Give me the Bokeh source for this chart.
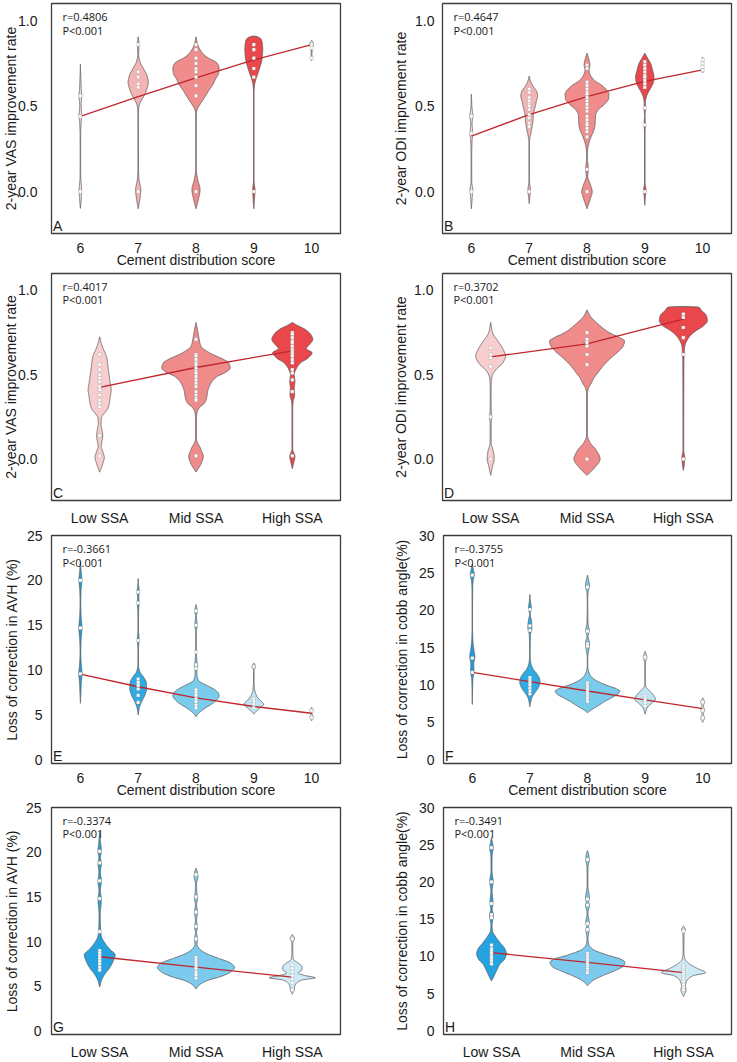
import numpy as np
from bokeh.plotting import figure
from bokeh.layouts import column, row
from bokeh.models import Range1d, FixedTicker, Label
from bokeh.embed import file_html
from bokeh.resources import INLINE

# ---------------------------------------------------------------------------
# Categories
# ---------------------------------------------------------------------------
SCORE_GROUPS = [6, 7, 8, 9, 10]
SSA_GROUPS = ["Low SSA", "Mid SSA", "High SSA"]

# Violin outlines: (value, half-width in category units) per group,
# white dots are the individual observations, trend = group fit values.

# A: 2-year VAS improvement rate vs cement distribution score
A_SHAPES = [
    [(0.745, 0), (0.68, 0.006), (0.60, 0.015), (0.56, 0.022), (0.50, 0.012), (0.45, 0.022),
     (0.40, 0.012), (0.33, 0.005), (0.20, 0.004), (0.08, 0.006), (0.02, 0.02), (-0.02, 0.018), (-0.098, 0)],
    [(0.905, 0), (0.87, 0.012), (0.84, 0.012), (0.80, 0.008), (0.76, 0.03), (0.72, 0.09), (0.68, 0.15),
     (0.64, 0.175), (0.60, 0.15), (0.56, 0.10), (0.53, 0.05), (0.50, 0.015), (0.46, 0.006), (0.15, 0.005),
     (0.07, 0.015), (0.01, 0.045), (-0.04, 0.03), (-0.1, 0)],
    [(0.905, 0), (0.87, 0.02), (0.83, 0.07), (0.80, 0.14), (0.78, 0.22), (0.75, 0.37), (0.72, 0.40),
     (0.69, 0.39), (0.66, 0.34), (0.625, 0.29), (0.59, 0.22), (0.557, 0.16), (0.53, 0.11), (0.51, 0.07),
     (0.48, 0.02), (0.45, 0.006), (0.13, 0.005), (0.07, 0.03), (0.01, 0.07), (-0.04, 0.045), (-0.1, 0)],
    [(0.91, 0), (0.905, 0.07), (0.89, 0.13), (0.86, 0.15), (0.83, 0.155), (0.80, 0.15), (0.77, 0.14),
     (0.72, 0.10), (0.68, 0.06), (0.65, 0.03), (0.62, 0.012), (0.58, 0.005), (0.06, 0.005), (0.01, 0.02),
     (-0.04, 0.012), (-0.1, 0)],
    [(0.885, 0), (0.87, 0.025), (0.855, 0.03), (0.84, 0.012), (0.80, 0.006), (0.78, 0.014), (0.765, 0)],
]
A_DOTS = [
    [0.56, 0.44, 0.0],
    [0.86, 0.70, 0.67, 0.63, 0.61, 0.0],
    [0.86, 0.83, 0.78, 0.75, 0.72, 0.70, 0.67, 0.62, 0.56, 0.0],
    [0.86, 0.83, 0.78, 0.72, 0.67, 0.0],
    [0.86, 0.84, 0.78],
]
A_TREND = [0.44, 0.555, 0.665, 0.77, 0.86]

# B: 2-year ODI improvement rate vs cement distribution score
B_SHAPES = [
    [(0.57, 0), (0.50, 0.008), (0.44, 0.025), (0.40, 0.012), (0.34, 0.022), (0.29, 0.01), (0.20, 0.005),
     (0.06, 0.006), (0.01, 0.022), (-0.03, 0.015), (-0.1, 0)],
    [(0.675, 0), (0.64, 0.03), (0.615, 0.07), (0.585, 0.13), (0.56, 0.145), (0.53, 0.125), (0.50, 0.105),
     (0.47, 0.085), (0.44, 0.07), (0.41, 0.065), (0.38, 0.05), (0.35, 0.035), (0.32, 0.015), (0.29, 0.005),
     (0.06, 0.005), (0.01, 0.022), (-0.03, 0.012), (-0.07, 0)],
    [(0.81, 0), (0.77, 0.035), (0.74, 0.05), (0.71, 0.035), (0.68, 0.06), (0.65, 0.13), (0.62, 0.26),
     (0.59, 0.35), (0.57, 0.38), (0.54, 0.37), (0.51, 0.30), (0.48, 0.20), (0.45, 0.15), (0.42, 0.145),
     (0.39, 0.14), (0.36, 0.12), (0.32, 0.07), (0.28, 0.03), (0.24, 0.01), (0.20, 0.006), (0.13, 0.022),
     (0.09, 0.012), (0.04, 0.06), (0.0, 0.09), (-0.04, 0.06), (-0.1, 0)],
    [(0.81, 0), (0.78, 0.05), (0.75, 0.10), (0.71, 0.135), (0.67, 0.16), (0.64, 0.15), (0.61, 0.11),
     (0.58, 0.06), (0.55, 0.025), (0.52, 0.01), (0.49, 0.012), (0.45, 0.005), (0.39, 0.01), (0.35, 0.005),
     (0.05, 0.005), (0.01, 0.02), (-0.03, 0.01), (-0.08, 0)],
    [(0.785, 0), (0.77, 0.02), (0.76, 0.01), (0.75, 0.02), (0.74, 0.01), (0.73, 0.02), (0.72, 0.01),
     (0.71, 0.02), (0.695, 0)],
]
B_DOTS = [
    [0.44, 0.34, 0.0],
    [0.60, 0.58, 0.55, 0.53, 0.51, 0.50, 0.48, 0.45, 0.43, 0.40, 0.38, 0.0],
    [0.74, 0.72, 0.64, 0.62, 0.60, 0.58, 0.57, 0.55, 0.53, 0.51, 0.49, 0.47, 0.44, 0.42, 0.40, 0.39,
     0.37, 0.35, 0.32, 0.13, 0.0],
    [0.76, 0.74, 0.72, 0.70, 0.68, 0.67, 0.65, 0.63, 0.61, 0.49, 0.39, 0.0],
    [0.77, 0.75, 0.73, 0.71],
]
B_TREND = [0.325, 0.45, 0.555, 0.645, 0.712]

# C: 2-year VAS improvement rate vs SSA group
C_SHAPES = [
    [(0.725, 0), (0.69, 0.015), (0.65, 0.04), (0.61, 0.07), (0.57, 0.082), (0.53, 0.09), (0.49, 0.10),
     (0.45, 0.11), (0.41, 0.12), (0.37, 0.11), (0.33, 0.10), (0.30, 0.085), (0.27, 0.045), (0.245, 0.018),
     (0.21, 0.014), (0.17, 0.025), (0.14, 0.032), (0.10, 0.022), (0.075, 0.016), (0.04, 0.035),
     (0.01, 0.048), (-0.03, 0.03), (-0.077, 0)],
    [(0.81, 0), (0.76, 0.018), (0.72, 0.03), (0.67, 0.05), (0.63, 0.14), (0.59, 0.29), (0.57, 0.34),
     (0.54, 0.355), (0.515, 0.31), (0.49, 0.22), (0.45, 0.155), (0.40, 0.12), (0.36, 0.11), (0.33, 0.085),
     (0.305, 0.035), (0.275, 0.01), (0.24, 0.005), (0.12, 0.005), (0.06, 0.05), (0.015, 0.076),
     (-0.03, 0.05), (-0.076, 0)],
    [(0.81, 0), (0.79, 0.06), (0.77, 0.13), (0.74, 0.19), (0.71, 0.213), (0.68, 0.18), (0.655, 0.145),
     (0.63, 0.205), (0.60, 0.165), (0.57, 0.085), (0.535, 0.04), (0.50, 0.02), (0.46, 0.027), (0.42, 0.02),
     (0.38, 0.024), (0.34, 0.008), (0.30, 0.004), (0.06, 0.004), (0.015, 0.027), (-0.02, 0.015),
     (-0.057, 0)],
]
C_DOTS = [
    [0.62, 0.56, 0.53, 0.50, 0.48, 0.46, 0.43, 0.41, 0.38, 0.35, 0.33, 0.31, 0.14, 0.02],
    [0.71, 0.62, 0.61, 0.59, 0.57, 0.56, 0.54, 0.52, 0.51, 0.49, 0.47, 0.45, 0.43, 0.40, 0.38, 0.36,
     0.35, 0.02],
    [0.75, 0.74, 0.72, 0.70, 0.69, 0.67, 0.65, 0.64, 0.63, 0.62, 0.61, 0.59, 0.57, 0.53, 0.51, 0.47,
     0.40, 0.02],
]
C_TREND = [0.425, 0.543, 0.642]

# D: 2-year ODI improvement rate vs SSA group
D_SHAPES = [
    [(0.81, 0), (0.76, 0.015), (0.74, 0.027), (0.70, 0.075), (0.65, 0.13), (0.61, 0.155), (0.57, 0.125),
     (0.53, 0.055), (0.50, 0.02), (0.47, 0.008), (0.40, 0.004), (0.28, 0.006), (0.25, 0.012),
     (0.22, 0.006), (0.10, 0.005), (0.04, 0.03), (0.0, 0.036), (-0.04, 0.02), (-0.096, 0)],
    [(0.885, 0), (0.85, 0.03), (0.80, 0.117), (0.75, 0.23), (0.72, 0.34), (0.70, 0.39), (0.67, 0.375),
     (0.64, 0.33), (0.60, 0.25), (0.567, 0.19), (0.54, 0.15), (0.51, 0.11), (0.48, 0.07), (0.45, 0.045),
     (0.42, 0.015), (0.39, 0.005), (0.14, 0.005), (0.10, 0.03), (0.05, 0.10), (0.0, 0.136),
     (-0.05, 0.08), (-0.096, 0)],
    [(0.905, 0), (0.904, 0.14), (0.88, 0.19), (0.85, 0.24), (0.82, 0.25), (0.79, 0.21), (0.76, 0.13),
     (0.73, 0.07), (0.70, 0.035), (0.67, 0.015), (0.64, 0.01), (0.62, 0.012), (0.60, 0.006),
     (0.05, 0.004), (0.01, 0.015), (-0.03, 0.01), (-0.067, 0)],
]
D_DOTS = [
    [0.66, 0.62, 0.60, 0.55, 0.25, 0.0],
    [0.75, 0.71, 0.69, 0.67, 0.62, 0.56, 0.0],
    [0.86, 0.84, 0.78, 0.72, 0.62, 0.0],
]
D_TREND = [0.606, 0.683, 0.83]

# E: loss of correction in AVH (%) vs cement distribution score
E_SHAPES = [
    [(22.1, 0), (21.2, 0.01), (20.0, 0.025), (18.8, 0.01), (17.5, 0.006), (16.0, 0.012), (14.7, 0.027),
     (13.4, 0.012), (12.0, 0.006), (10.6, 0.015), (9.6, 0.028), (8.6, 0.015), (7.5, 0.008), (6.3, 0)],
    [(20.2, 0), (19.4, 0.008), (18.7, 0.018), (18.1, 0.01), (17.5, 0.016), (16.5, 0.006), (14.5, 0.005),
     (13.4, 0.014), (12.3, 0.005), (10.5, 0.006), (9.8, 0.03), (9.3, 0.085), (8.6, 0.14), (7.9, 0.145),
     (7.2, 0.115), (6.5, 0.06), (5.8, 0.02), (5.0, 0)],
    [(17.3, 0), (16.6, 0.02), (16.0, 0.008), (15.0, 0.02), (14.2, 0.006), (12.0, 0.008), (11.0, 0.015),
     (10.5, 0.03), (10.0, 0.015), (9.3, 0.02), (8.8, 0.05), (8.45, 0.14), (8.1, 0.25), (7.8, 0.33),
     (7.4, 0.39), (7.1, 0.40), (6.7, 0.36), (6.3, 0.29), (5.9, 0.19), (5.5, 0.10), (5.1, 0.03), (4.8, 0)],
    [(10.8, 0), (10.4, 0.03), (10.0, 0.005), (9.0, 0.004), (7.8, 0.015), (7.2, 0.045), (6.7, 0.1),
     (6.2, 0.17), (5.8, 0.11), (5.4, 0.04), (5.1, 0)],
    [(5.85, 0), (5.55, 0.025), (5.2, 0.006), (4.75, 0.025), (4.35, 0)],
]
E_DOTS = [
    [20.0, 14.7, 9.6],
    [18.7, 17.5, 13.3, 9.0, 8.6, 8.3, 7.9, 7.2, 6.4],
    [16.6, 15.0, 12.0, 10.6, 10.2, 7.8, 7.5, 7.2, 6.8, 6.5, 6.1, 5.8],
    [10.4, 6.8, 6.5, 6.2, 5.8],
    [5.5, 4.7],
]
E_TREND = [9.55, 8.15, 6.9, 5.95, 5.2]

# F: loss of correction in cobb angle (%) vs cement distribution score
F_SHAPES = [
    [(26.2, 0), (25.4, 0.02), (24.8, 0.035), (24.0, 0.015), (23.0, 0.006), (18.0, 0.004), (16.0, 0.01),
     (14.6, 0.03), (13.8, 0.045), (12.8, 0.025), (11.8, 0.03), (10.8, 0.01), (9.0, 0.004), (7.4, 0)],
    [(22.1, 0), (21.2, 0.01), (20.3, 0.025), (19.5, 0.006), (18.4, 0.03), (17.6, 0.035), (16.7, 0.01),
     (14.0, 0.005), (13.0, 0.015), (12.2, 0.05), (11.5, 0.12), (10.8, 0.17), (10.3, 0.175), (9.7, 0.15),
     (9.0, 0.09), (8.4, 0.04), (7.6, 0.01), (7.1, 0)],
    [(24.7, 0), (24.0, 0.02), (23.3, 0.035), (22.4, 0.01), (21.0, 0.004), (18.2, 0.01), (17.3, 0.03),
     (16.5, 0.01), (15.6, 0.035), (14.8, 0.025), (13.8, 0.005), (12.5, 0.004), (11.6, 0.03), (11.0, 0.08),
     (10.6, 0.15), (10.0, 0.32), (9.5, 0.5), (9.2, 0.56), (8.8, 0.53), (8.3, 0.42), (7.8, 0.3),
     (7.2, 0.18), (6.7, 0.07), (6.3, 0)],
    [(14.5, 0), (13.7, 0.03), (13.0, 0.006), (10.5, 0.004), (9.8, 0.015), (9.2, 0.08), (8.6, 0.15),
     (8.1, 0.18), (7.6, 0.12), (7.0, 0.04), (6.5, 0.015), (6.1, 0)],
    [(8.3, 0), (7.7, 0.03), (7.2, 0.012), (6.7, 0.03), (6.1, 0.012), (5.6, 0.03), (5.0, 0)],
]
F_DOTS = [
    [24.7, 13.6, 11.7],
    [20.1, 17.9, 17.3, 11.0, 10.6, 10.3, 10.0, 9.6, 9.2, 8.8],
    [23.1, 17.2, 15.5, 15.2, 10.3, 10.0, 9.7, 9.4, 9.1, 8.8, 8.5, 8.2, 7.8],
    [13.7, 8.5, 8.2, 7.9, 7.6, 7.2],
    [7.7, 6.6, 5.6],
]
F_TREND = [11.7, 10.45, 9.2, 8.0, 6.85]

# G: loss of correction in AVH (%) vs SSA group
G_SHAPES = [
    [(22.2, 0), (21.2, 0.008), (20.1, 0.017), (19.4, 0.008), (18.7, 0.017), (17.8, 0.008), (16.7, 0.017),
     (15.7, 0.007), (14.7, 0.017), (13.0, 0.006), (11.0, 0.012), (10.5, 0.02), (9.9, 0.05), (9.2, 0.1),
     (8.5, 0.16), (7.8, 0.14), (7.0, 0.1), (6.3, 0.05), (5.6, 0.017), (4.9, 0)],
    [(18.2, 0), (17.7, 0.015), (17.3, 0.02), (16.5, 0.006), (15.5, 0.008), (14.9, 0.017), (14.1, 0.006),
     (13.3, 0.017), (12.4, 0.006), (11.6, 0.014), (11.0, 0.005), (10.3, 0.017), (9.7, 0.01), (9.2, 0.035),
     (8.7, 0.1), (8.1, 0.24), (7.6, 0.36), (7.1, 0.4), (6.6, 0.36), (6.1, 0.26), (5.6, 0.11), (5.1, 0.03),
     (4.7, 0)],
    [(10.8, 0), (10.35, 0.022), (9.9, 0.006), (9.0, 0.004), (8.0, 0.012), (7.6, 0.06), (7.2, 0.1),
     (6.85, 0.1), (6.5, 0.06), (6.2, 0.13), (5.95, 0.24), (5.7, 0.1), (5.3, 0.04), (5.0, 0.025),
     (4.6, 0.02), (4.1, 0)],
]
G_DOTS = [
    [20.1, 18.8, 16.8, 14.8, 11.1, 9.0, 8.7, 8.4, 8.1, 7.8, 7.5, 7.1, 6.8],
    [17.5, 15.0, 13.3, 11.7, 10.3, 8.2, 7.9, 7.6, 7.3, 7.0, 6.6, 6.3, 5.9],
    [10.3, 7.4, 7.0, 6.6, 6.2, 5.8, 5.4, 4.6],
]
G_TREND = [8.3, 7.14, 6.02]

# H: loss of correction in cobb angle (%) vs SSA group
H_SHAPES = [
    [(26.0, 0), (25.3, 0.01), (24.6, 0.018), (23.5, 0.006), (21.5, 0.005), (20.1, 0.017), (18.8, 0.006),
     (17.3, 0.015), (16.3, 0.008), (15.6, 0.02), (15.0, 0.015), (14.2, 0.006), (13.4, 0.01), (12.8, 0.035),
     (11.9, 0.085), (11.0, 0.14), (10.4, 0.155), (9.7, 0.14), (8.9, 0.085), (8.0, 0.05), (7.1, 0.017),
     (6.7, 0)],
    [(24.2, 0), (23.7, 0.012), (23.0, 0.018), (22.0, 0.005), (19.5, 0.004), (17.8, 0.02), (17.3, 0.012),
     (16.9, 0.02), (15.8, 0.005), (14.5, 0.018), (14.0, 0.01), (13.5, 0.016), (12.5, 0.005), (11.7, 0.01),
     (11.0, 0.05), (10.2, 0.2), (9.6, 0.35), (9.2, 0.39), (8.66, 0.37), (8.0, 0.27), (7.36, 0.15),
     (6.7, 0.05), (6.06, 0)],
    [(14.1, 0), (13.6, 0.02), (13.1, 0.006), (10.5, 0.004), (9.6, 0.015), (9.1, 0.05), (8.4, 0.14),
     (7.8, 0.23), (7.4, 0.1), (6.7, 0.035), (6.0, 0.02), (5.5, 0.027), (5.0, 0.015), (4.6, 0)],
]
H_DOTS = [
    [24.6, 20.0, 17.1, 15.6, 15.2, 11.5, 11.0, 10.7, 10.4, 10.0, 9.7, 9.4, 9.0],
    [23.0, 17.7, 16.9, 14.4, 13.6, 10.4, 10.1, 9.8, 9.5, 9.2, 8.9, 8.6, 8.3, 8.0, 7.8],
    [13.4, 8.8, 8.5, 8.2, 7.9, 7.6, 7.3, 7.0, 6.6, 6.2, 5.8, 5.5],
]
H_TREND = [10.5, 9.2, 7.8]

R_VALUES = {"A": "0.4806", "B": "0.4647", "C": "0.4017", "D": "0.3702",
            "E": "-0.3661", "F": "-0.3755", "G": "-0.3374", "H": "-0.3491"}

# Fill colours per group
RED_SCORE = ["#fadcdc", "#f5b4b4", "#f08c8c", "#e9474b", "#f6f6f6"]
RED_SSA = ["#f7cdcd", "#f08b8b", "#e9474b"]
BLUE_SCORE = ["#1a9fe0", "#2eaae4", "#7acced", "#bfe5f5", "#f6f6f6"]
BLUE_SSA = ["#24a3e0", "#7ccbee", "#cdebf7"]

FONT = "Liberation Sans"
TEXT = "#1a1a1a"
OUTLINE = "#5c5c5c"
TREND = "#c0262d"


def pchip(xk, yk, xq):
    """Monotone cubic Hermite curve through the outline knots."""
    h = np.diff(xk)
    d = np.diff(yk) / h
    n = len(xk)
    m = np.zeros(n)
    m[0], m[-1] = d[0], d[-1]
    for k in range(1, n - 1):
        if d[k - 1] * d[k] <= 0:
            m[k] = 0.0
        else:
            w1 = 2 * h[k] + h[k - 1]
            w2 = h[k] + 2 * h[k - 1]
            m[k] = (w1 + w2) / (w1 / d[k - 1] + w2 / d[k])
    idx = np.clip(np.searchsorted(xk, xq) - 1, 0, n - 2)
    t = (xq - xk[idx]) / h[idx]
    h00 = 2 * t**3 - 3 * t**2 + 1
    h10 = t**3 - 2 * t**2 + t
    h01 = -2 * t**3 + 3 * t**2
    h11 = t**3 - t**2
    return (h00 * yk[idx] + h10 * h[idx] * m[idx] + h01 * yk[idx + 1]
            + h11 * h[idx] * m[idx + 1])


def violin_outline(center, knots):
    k = sorted(knots)
    ys = np.array([a for a, _ in k], dtype=float)
    ws = np.array([b for _, b in k], dtype=float)
    yq = np.linspace(ys[0], ys[-1], 300)
    wq = np.clip(pchip(ys, ws, yq), 0, None)
    xs = np.concatenate([center - wq, (center + wq)[::-1]])
    yy = np.concatenate([yq, yq[::-1]])
    return xs, yy


def make_panel(letter, shapes, dots, trend, colors, centers, tick_labels,
               y_range, y_ticks, y_fmt, y_label, x_label, size, borders, stand):
    width, height = size
    bl, br, bt, bb = borders
    p = figure(width=width, height=height, output_backend="svg", toolbar_location=None,
               x_range=Range1d(centers[0] - 0.5, centers[-1] + 0.5),
               y_range=Range1d(*y_range),
               min_border_left=bl, min_border_right=br,
               min_border_top=bt, min_border_bottom=bb)
    p.xgrid.visible = False
    p.ygrid.visible = False
    p.background_fill_color = "white"
    p.border_fill_color = "white"
    p.outline_line_color = "#3c3c3c"
    p.outline_line_width = 1.3

    for c, shp, col in zip(centers, shapes, colors):
        xs, ys = violin_outline(c, shp)
        p.patch(xs, ys, fill_color=col, line_color=OUTLINE, line_width=0.8)

    p.line(centers, trend, line_color=TREND, line_width=1.3)

    for c, pts in zip(centers, dots):
        p.scatter([c] * len(pts), pts, marker="square", size=3.2,
                  fill_color="white", line_color="#8a8a8a", line_width=0.3)

    p.xaxis.ticker = FixedTicker(ticks=list(centers))
    p.xaxis.major_label_overrides = {c: t for c, t in zip(centers, tick_labels)}
    p.yaxis.ticker = FixedTicker(ticks=y_ticks)
    p.yaxis.major_label_overrides = {t: y_fmt.format(t) for t in y_ticks}
    for ax in (p.xaxis[0], p.yaxis[0]):
        ax.major_tick_line_color = None
        ax.minor_tick_line_color = None
        ax.axis_line_color = None
        ax.major_label_text_font = FONT
        ax.major_label_text_font_size = "14px"
        ax.major_label_text_color = TEXT
        ax.axis_label_text_font = FONT
        ax.axis_label_text_font_size = "14px"
        ax.axis_label_text_font_style = "normal"
        ax.axis_label_text_color = TEXT
    p.yaxis.axis_label = y_label
    if x_label:
        p.xaxis.axis_label = x_label
    p.xaxis.major_label_standoff = 3
    p.xaxis.axis_label_standoff = -4
    p.yaxis.major_label_standoff = stand[0]
    p.yaxis.axis_label_standoff = stand[1]

    # pixel -> data helpers inside the frame
    fw = width - bl - br
    fh = height - bt - bb
    x0, x1 = centers[0] - 0.5, centers[-1] + 0.5
    y0, y1 = y_range
    def dx(px):
        return x0 + px * (x1 - x0) / fw
    def dy_top(px):
        return y1 - px * (y1 - y0) / fh
    def dy_bot(px):
        return y0 + px * (y1 - y0) / fh

    p.add_layout(Label(x=dx(11), y=dy_top(13), text="r=" + R_VALUES[letter],
                       text_font="Open Sans", text_font_size="11px", text_color=TEXT,
                       text_baseline="middle"))
    p.add_layout(Label(x=dx(11), y=dy_top(27), text="P<0.001",
                       text_font="Open Sans", text_font_size="11px", text_color=TEXT,
                       text_baseline="middle"))
    p.add_layout(Label(x=dx(1.5), y=dy_bot(0), text=letter,
                       text_font=FONT, text_font_size="14px", text_color=TEXT,
                       text_baseline="bottom"))
    return p


LEFT_W, RIGHT_W = 390, 347
ROW_H = [270, 258, 272, 262]
ROW_TOP = [3, 3, 7, 7]
ROW_BOTTOM = [35, 21, 33, 20]

def borders(col, r):
    if col == 0:
        return (49, LEFT_W - 49 - 291, ROW_TOP[r], ROW_BOTTOM[r])
    return (51, 6, ROW_TOP[r], ROW_BOTTOM[r])

score_ticks = [str(s) for s in SCORE_GROUPS]
ssa_centers = list(range(len(SSA_GROUPS)))
rate_ticks = [0.0, 0.5, 1.0]
rate_range = (-0.245, 1.1)

pA = make_panel("A", A_SHAPES, A_DOTS, A_TREND, RED_SCORE, SCORE_GROUPS, score_ticks,
                rate_range, rate_ticks, "{:.1f}", "2-year VAS improvement rate",
                "Cement distribution score", (LEFT_W, ROW_H[0]), borders(0, 0), (8, -4))
pB = make_panel("B", B_SHAPES, B_DOTS, B_TREND, RED_SCORE, SCORE_GROUPS, score_ticks,
                rate_range, rate_ticks, "{:.1f}", "2-year ODI imprvement rate",
                "Cement distribution score", (RIGHT_W, ROW_H[0]), borders(1, 0), (2, 3))
pC = make_panel("C", C_SHAPES, C_DOTS, C_TREND, RED_SSA, ssa_centers, SSA_GROUPS,
                rate_range, rate_ticks, "{:.1f}", "2-year VAS improvement rate",
                None, (LEFT_W, ROW_H[1]), borders(0, 1), (8, -4))
pD = make_panel("D", D_SHAPES, D_DOTS, D_TREND, RED_SSA, ssa_centers, SSA_GROUPS,
                rate_range, rate_ticks, "{:.1f}", "2-year ODI improvement rate",
                None, (RIGHT_W, ROW_H[1]), borders(1, 1), (3, 2))
pE = make_panel("E", E_SHAPES, E_DOTS, E_TREND, BLUE_SCORE, SCORE_GROUPS, score_ticks,
                (-0.4, 25), [0, 5, 10, 15, 20, 25], "{:d}", "Loss of correction in AVH (%)",
                "Cement distribution score", (LEFT_W, ROW_H[2]), borders(0, 2), (3, 4))
pF = make_panel("F", F_SHAPES, F_DOTS, F_TREND, BLUE_SCORE, SCORE_GROUPS, score_ticks,
                (-0.5, 30), [0, 5, 10, 15, 20, 25, 30], "{:d}", "Loss of correction in cobb angle(%)",
                "Cement distribution score", (RIGHT_W, ROW_H[2]), borders(1, 2), (3, 6))
pG = make_panel("G", G_SHAPES, G_DOTS, G_TREND, BLUE_SSA, ssa_centers, SSA_GROUPS,
                (-0.4, 25), [0, 5, 10, 15, 20, 25], "{:d}", "Loss of correction in AVH (%)",
                None, (LEFT_W, ROW_H[3]), borders(0, 3), (4, 3))
pH = make_panel("H", H_SHAPES, H_DOTS, H_TREND, BLUE_SSA, ssa_centers, SSA_GROUPS,
                (-0.5, 30), [0, 5, 10, 15, 20, 25, 30], "{:d}", "Loss of correction in cobb angle(%)",
                None, (RIGHT_W, ROW_H[3]), borders(1, 3), (3, 6))

layout = column(row(pA, pB), row(pC, pD), row(pE, pF), row(pG, pH))

open("out.html", "w").write(file_html(layout, INLINE))
